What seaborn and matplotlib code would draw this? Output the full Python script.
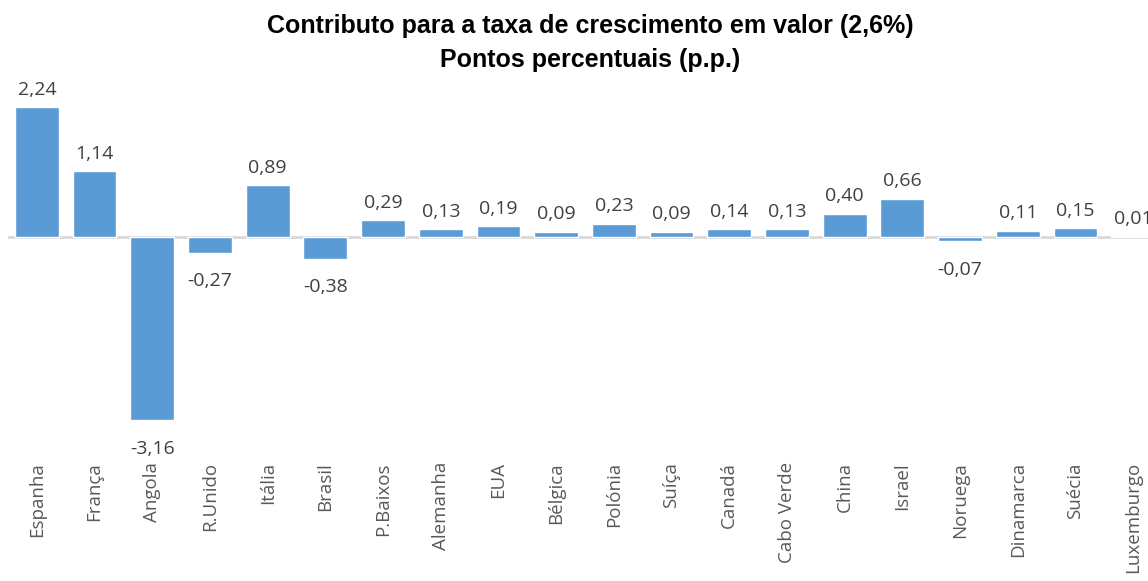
import matplotlib
matplotlib.use('Agg')
import matplotlib.pyplot as plt
import seaborn as sns
import pandas as pd

# Dados
paises = ['Espanha', 'França', 'Angola', 'R.Unido', 'Itália', 'Brasil', 'P.Baixos',
          'Alemanha', 'EUA', 'Bélgica', 'Polónia', 'Suíça', 'Canadá', 'Cabo Verde',
          'China', 'Israel', 'Noruega', 'Dinamarca', 'Suécia', 'Luxemburgo']
contributo = [2.24, 1.14, -3.16, -0.27, 0.89, -0.38, 0.29, 0.13, 0.19, 0.09,
              0.23, 0.09, 0.14, 0.13, 0.40, 0.66, -0.07, 0.11, 0.15, 0.01]

df = pd.DataFrame({'Pais': paises, 'Contributo': contributo})

sns.set_style('white')
plt.rcParams['font.family'] = ['Open Sans', 'DejaVu Sans']

fig = plt.figure(figsize=(11.48, 5.81), dpi=100)
ax = fig.add_axes([8 / 1148, 141 / 581, 1154 / 1148, 348 / 581])

sns.barplot(data=df, x='Pais', y='Contributo', color='#5B9BD5', width=0.76,
            saturation=1, ax=ax)

ax.set_ylim(-3.5, 2.5)
ax.set_xlim(-0.5, 19.5)
ax.axhline(0, color='#D9D9D9', linewidth=2, zorder=0)

# Rótulos dos valores
for i, v in enumerate(contributo):
    txt = f'{v:.2f}'.replace('.', ',')
    if v >= 0:
        ax.annotate(txt, (i, v), xytext=(0, 6), textcoords='offset points',
                    ha='center', va='bottom', fontsize=14, color='#404040')
    else:
        ax.annotate(txt, (i, v), xytext=(0, -14), textcoords='offset points',
                    ha='center', va='top', fontsize=14, color='#404040')

ax.set_xlabel('')
ax.set_ylabel('')
ax.set_yticks([])
ax.tick_params(axis='x', length=0, pad=16, labelsize=13.5, labelcolor='#595959')
plt.setp(ax.get_xticklabels(), rotation=90, va='top', ha='center')
for s in ax.spines.values():
    s.set_visible(False)

fig.text(590 / 1148, 1 - 33 / 581, 'Contributo para a taxa de crescimento em valor (2,6%)',
         ha='center', va='baseline', fontsize=18, fontweight='bold',
         family='Liberation Sans', color='#000000')
fig.text(590 / 1148, 1 - 67 / 581, 'Pontos percentuais (p.p.)',
         ha='center', va='baseline', fontsize=18, fontweight='bold',
         family='Liberation Sans', color='#000000')

fig.savefig('out.png', dpi=100)
plt.close()
